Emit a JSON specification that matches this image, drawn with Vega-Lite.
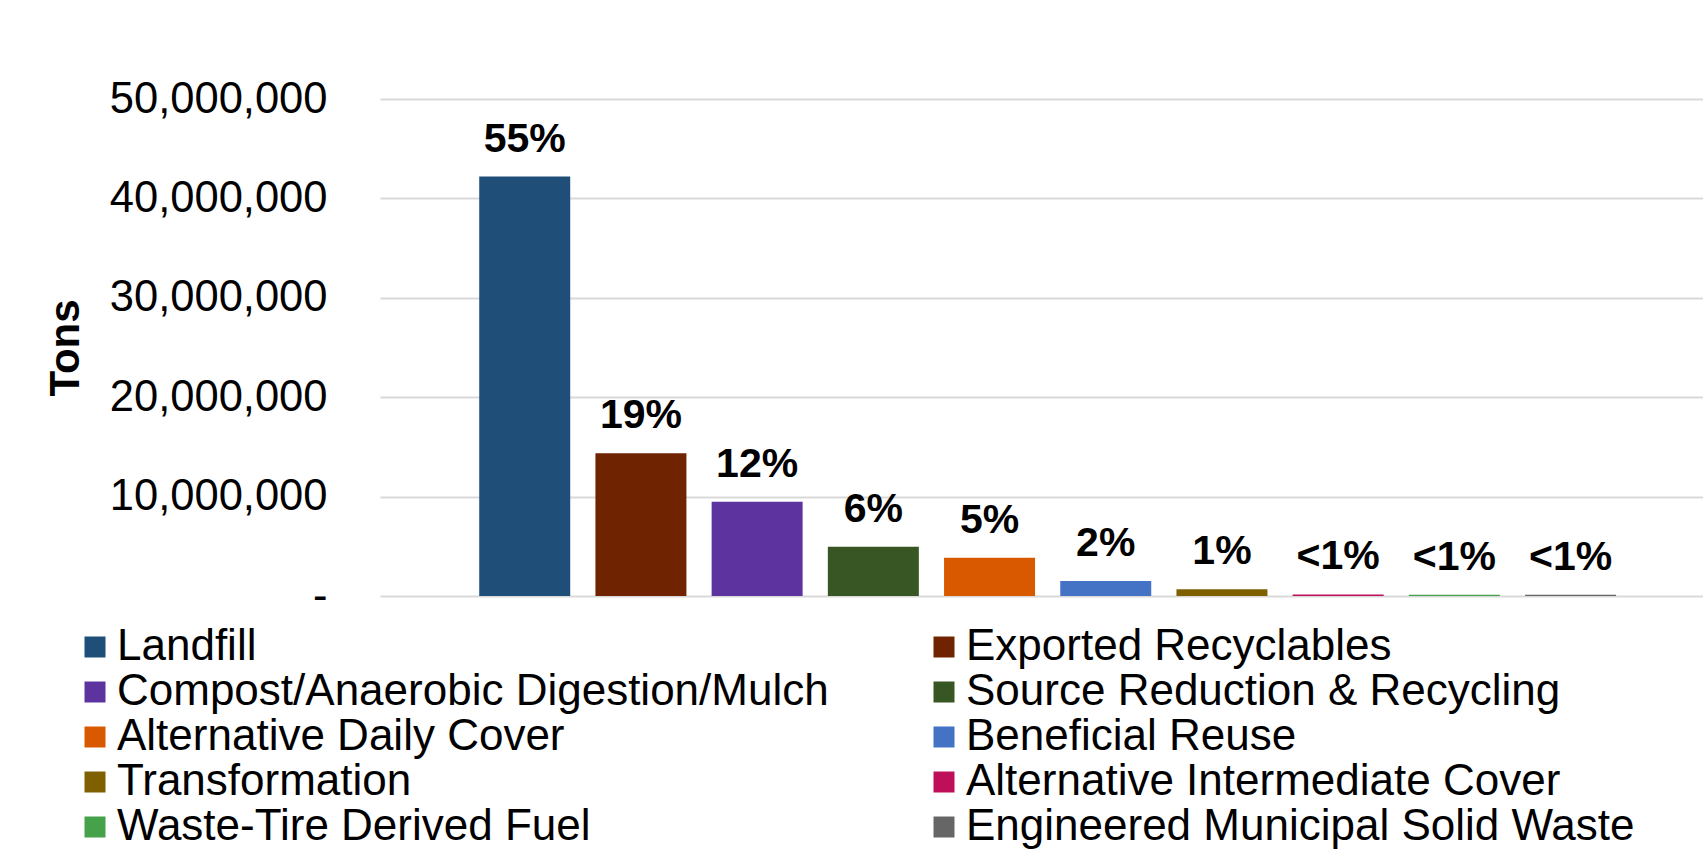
{
  "$schema": "https://vega.github.io/schema/vega-lite/v6.json",
  "width": 1323,
  "height": 497,
  "padding": {"left": 380, "top": 99, "right": 0, "bottom": 260},
  "autosize": {"type": "none"},
  "background": "white",
  "config": {
    "view": {"stroke": null},
    "font": "Liberation Sans"
  },
  "data": {
    "values": [
      {"category": "Landfill", "tons": 42200000, "label": "55%"},
      {"category": "Exported Recyclables", "tons": 14360000, "label": "19%"},
      {"category": "Compost/Anaerobic Digestion/Mulch", "tons": 9490000, "label": "12%"},
      {"category": "Source Reduction & Recycling", "tons": 4960000, "label": "6%"},
      {"category": "Alternative Daily Cover", "tons": 3850000, "label": "5%"},
      {"category": "Beneficial Reuse", "tons": 1510000, "label": "2%"},
      {"category": "Transformation", "tons": 670000, "label": "1%"},
      {"category": "Alternative Intermediate Cover", "tons": 160000, "label": "<1%"},
      {"category": "Waste-Tire Derived Fuel", "tons": 130000, "label": "<1%"},
      {"category": "Engineered Municipal Solid Waste", "tons": 130000, "label": "<1%"}
    ]
  },
  "encoding": {
    "x": {
      "field": "category",
      "type": "nominal",
      "sort": null,
      "axis": null,
      "scale": {"paddingInner": 0.217, "paddingOuter": 0.801, "align": 0.533}
    },
    "y": {
      "field": "tons",
      "type": "quantitative",
      "scale": {"domain": [0, 50000000], "nice": false},
      "axis": {
        "values": [0, 10000000, 20000000, 30000000, 40000000, 50000000],
        "labelExpr": "datum.value == 0 ? '-\u2007' : format(datum.value, ',')",
        "labelFontSize": 43.5,
        "labelColor": "#000000",
        "labelFont": "Liberation Sans",
        "labelPadding": 53,
        "labelLimit": 500,
        "ticks": false,
        "domain": false,
        "grid": true,
        "gridColor": "#D9D9D9",
        "gridWidth": 2,
        "title": "Tons",
        "titleFont": "Liberation Sans",
        "titleFontSize": 42,
        "titleFontWeight": "bold",
        "titleColor": "#000000",
        "titleAngle": 270,
        "titleBaseline": "alphabetic",
        "titleAlign": "center",
        "titleX": -302,
        "titleY": 248.5
      }
    }
  },
  "layer": [
    {
      "mark": {"type": "bar"},
      "encoding": {
        "color": {
          "field": "category",
          "type": "nominal",
          "scale": {
            "domain": ["Landfill", "Compost/Anaerobic Digestion/Mulch", "Alternative Daily Cover", "Transformation", "Waste-Tire Derived Fuel", "Exported Recyclables", "Source Reduction & Recycling", "Beneficial Reuse", "Alternative Intermediate Cover", "Engineered Municipal Solid Waste"],
            "range": ["#1F4E79", "#5D33A0", "#D95900", "#7F6000", "#45A14A", "#702300", "#375623", "#4472C4", "#C00F5A", "#666666"]
          },
          "legend": {
            "orient": "none",
            "legendX": -307,
            "legendY": 526,
            "columns": 2,
            "columnPadding": 93,
            "rowPadding": 1,
            "padding": 0,
            "title": null,
            "symbolType": "square",
            "symbolSize": 441,
            "symbolStrokeWidth": 0,
            "labelFont": "Liberation Sans",
            "labelFontSize": 44,
            "labelColor": "#000000",
            "labelOffset": 0,
            "labelLimit": 1200
          }
        }
      }
    },
    {
      "mark": {"type": "text", "baseline": "alphabetic", "dy": -25, "fontSize": 41, "fontWeight": "bold", "font": "Liberation Sans", "color": "#000000"},
      "encoding": {"text": {"field": "label"}}
    }
  ]
}
